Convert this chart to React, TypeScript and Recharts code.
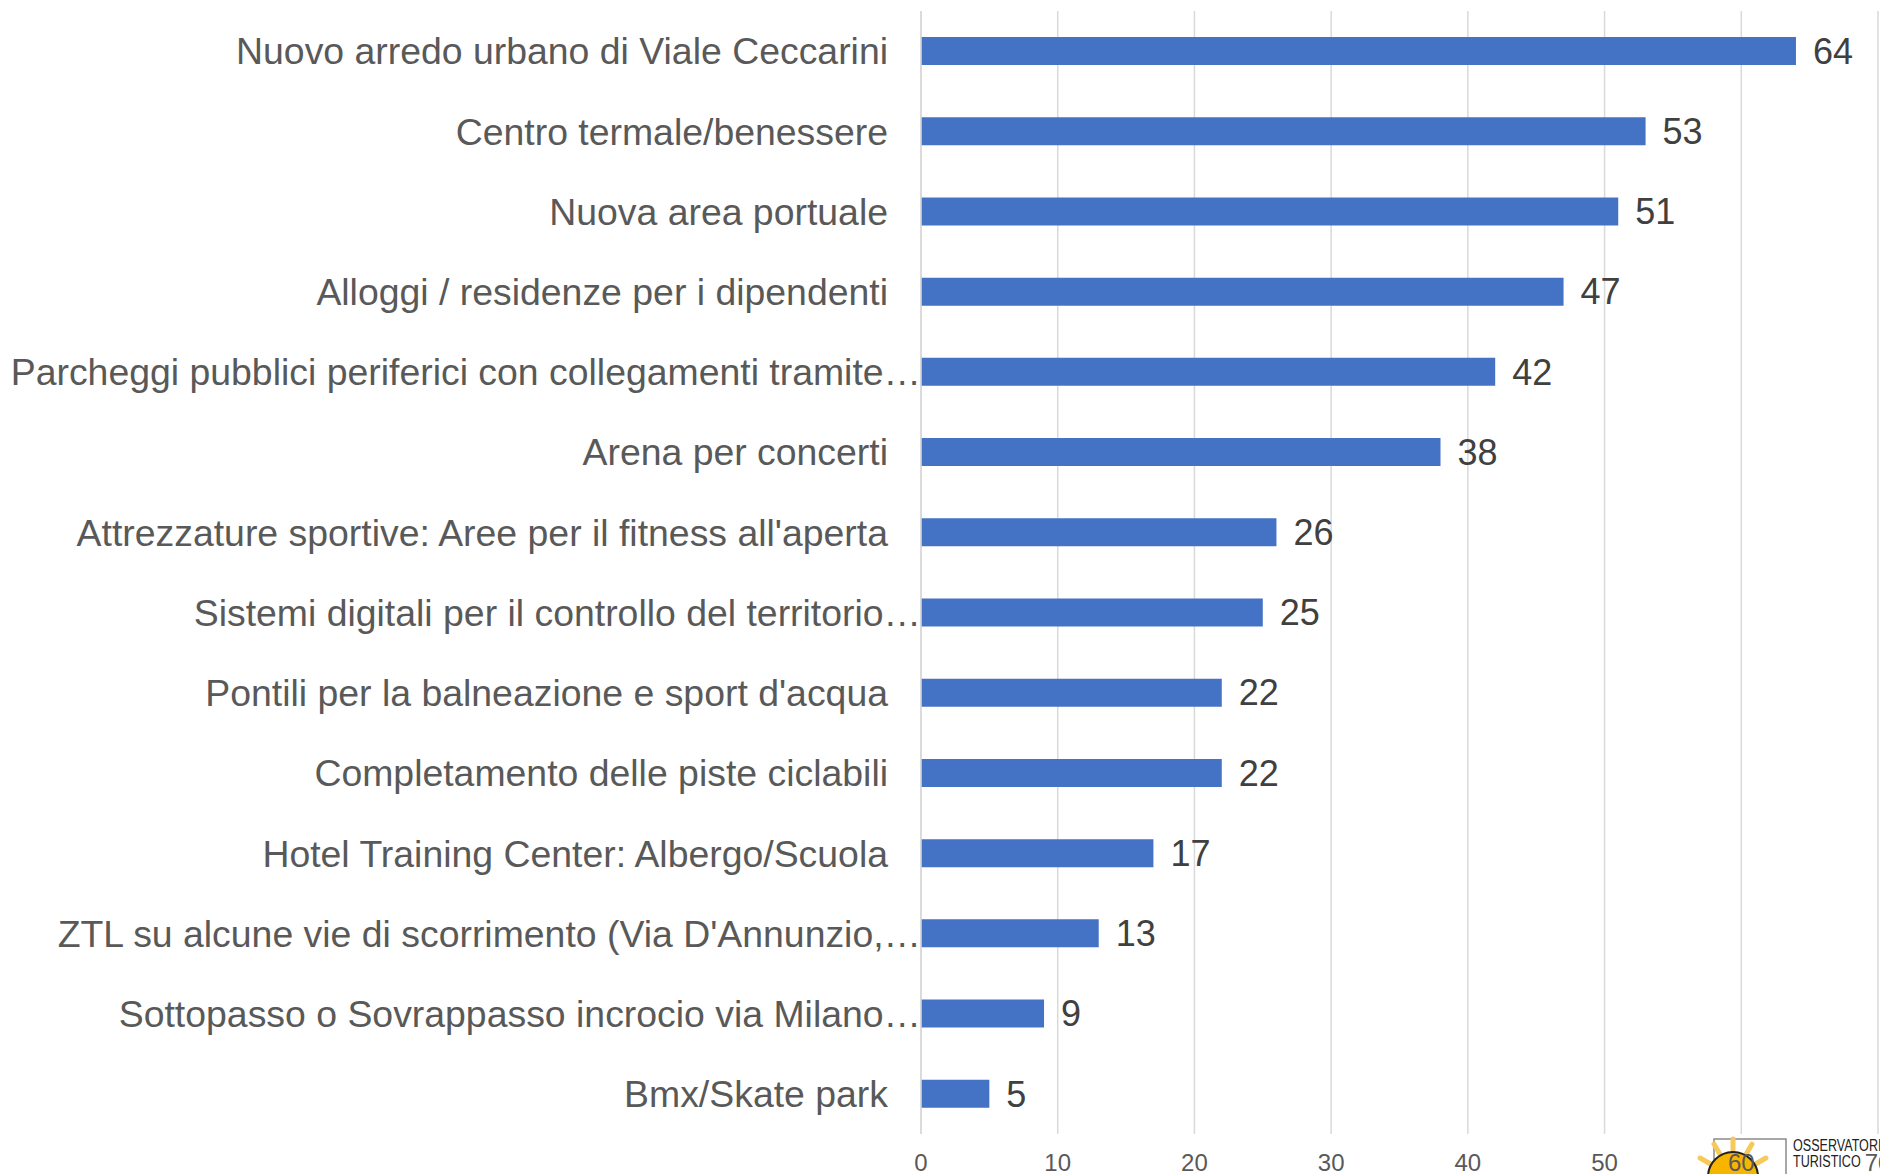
import React from "react";
import { BarChart, Bar, XAxis, YAxis, CartesianGrid, LabelList } from "recharts";

const categories: string[] = [
  "Nuovo arredo urbano di Viale Ceccarini",
  "Centro termale/benessere",
  "Nuova area portuale",
  "Alloggi / residenze per i dipendenti",
  "Parcheggi pubblici periferici con collegamenti tramite…",
  "Arena per concerti",
  "Attrezzature sportive: Aree per il fitness all'aperta",
  "Sistemi digitali per il controllo del territorio…",
  "Pontili per la balneazione e sport d'acqua",
  "Completamento delle piste ciclabili",
  "Hotel Training Center: Albergo/Scuola",
  "ZTL su alcune vie di scorrimento (Via D'Annunzio,…",
  "Sottopasso o Sovrappasso incrocio via Milano…",
  "Bmx/Skate park",
];

const values: number[] = [64, 53, 51, 47, 42, 38, 26, 25, 22, 22, 17, 13, 9, 5];

const xTicks: number[] = [0, 10, 20, 30, 40, 50, 60, 70];

const data = categories.map((name, i) => ({ name, value: values[i] }));

const FONT = "'Liberation Sans', Arial, Helvetica, sans-serif";

const CategoryTick = (props: any) => {
  const { x, y, payload } = props;
  const label: string = payload.value;
  const truncated = label.endsWith("…");
  return (
    <text
      x={truncated ? x + 33 : x}
      y={y}
      dy="0.355em"
      textAnchor="end"
      fontSize={37.4}
      fontFamily={FONT}
      fill="#595959"
    >
      {label}
    </text>
  );
};

const Logo = () => (
  <svg width={1880} height={1174} style={{ position: "absolute", left: 0, top: 0 }}>
    <rect x={1714} y={1139} width={72} height={60} fill="#fff" stroke="#8a8a8a" strokeWidth={1.5} />
    {[0, 30, 60, 90, 120, 150, 180, 210, 240, 270, 300, 330].map((a) => {
      const r1 = 27;
      const r2 = 38;
      const cx = 1733;
      const cy = 1177;
      const rad = (a * Math.PI) / 180;
      return (
        <line
          key={a}
          x1={cx + r1 * Math.cos(rad)}
          y1={cy + r1 * Math.sin(rad)}
          x2={cx + r2 * Math.cos(rad)}
          y2={cy + r2 * Math.sin(rad)}
          stroke="#f5c95a"
          strokeWidth={5}
          strokeLinecap="round"
        />
      );
    })}
    <circle cx={1733} cy={1177} r={25} fill="#f7b500" stroke="#222" strokeWidth={2} />
    <g transform="translate(1793 0) scale(0.74 1)">
      <text x={0} y={1151} fontSize={17} fontFamily={FONT} fill="#222">
        OSSERVATORIO
      </text>
      <text x={0} y={1167} fontSize={17} fontFamily={FONT} fill="#222">
        TURISTICO
      </text>
    </g>
  </svg>
);

export default function App() {
  return (
    <div style={{ position: "absolute", left: 0, top: 0, width: 1880, height: 1174, background: "#fff", overflow: "hidden" }}>
      <Logo />
      <div style={{ position: "absolute", left: 0, top: 0 }}>
        <BarChart
          width={1880}
          height={1174}
          data={data}
          layout="vertical"
          margin={{ top: 11, right: 2, bottom: 10, left: 0 }}
          barCategoryGap={0}
        >
          <CartesianGrid horizontal={false} stroke="#D9D9D9" strokeWidth={1.5} />
          <XAxis
            type="number"
            domain={[0, 70]}
            ticks={xTicks}
            interval={0}
            axisLine={false}
            tickLine={false}
            height={30}
            tickMargin={14}
            tick={{ fontSize: 24, fill: "#595959", fontFamily: FONT }}
          />
          <YAxis
            type="category"
            dataKey="name"
            width={921}
            interval={0}
            axisLine={{ stroke: "#D9D9D9", strokeWidth: 1.5 }}
            tickLine={false}
            tickMargin={27}
            tick={<CategoryTick />}
          />
          <Bar dataKey="value" fill="#4472C4" barSize={28} isAnimationActive={false}>
            <LabelList
              dataKey="value"
              position="right"
              offset={17}
              fontSize={36}
              fill="#404040"
              fontFamily={FONT}
            />
          </Bar>
        </BarChart>
      </div>
    </div>
  );
}
